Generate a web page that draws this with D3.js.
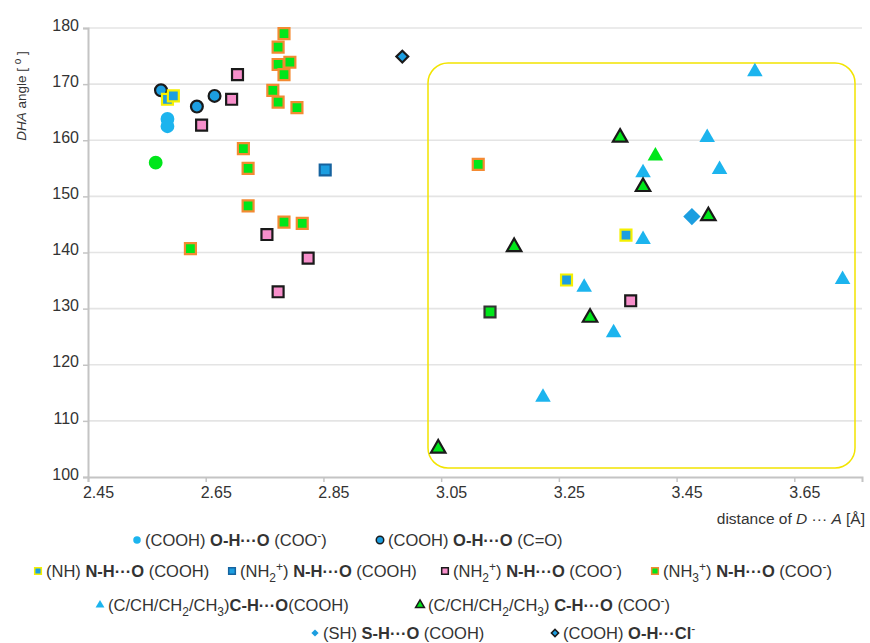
<!DOCTYPE html>
<html>
<head>
<meta charset="utf-8">
<script src="https://cdn.jsdelivr.net/npm/d3@7"></script>
<style>
  body { margin: 0; background: #fff; }
  svg { display: block; font-family: "Liberation Sans", Arial, sans-serif; }
</style>
</head>
<body>
<svg id="chart" width="870" height="643"></svg>
<script>
// Hydrogen-bond geometry: donor···acceptor distance [Å] vs D-H···A angle [°]
const xTicks = [2.45, 2.65, 2.85, 3.05, 3.25, 3.45, 3.65];
const yTicks = [100, 110, 120, 130, 140, 150, 160, 170, 180];

// (COOH) O-H···O (COO-)
const ohCooMinus = [[2.585, 163.8], [2.585, 162.5]];
// (COOH) O-H···O (C=O)
const ohCO = [[2.574, 168.9], [2.635, 166.0], [2.665, 167.9]];
// (NH) N-H···O (COOH)
const nhCooh = [[2.585, 167.3], [2.595, 167.9], [3.364, 143.1], [3.263, 135.1]];
// (NH2+) N-H···O (COOH)
const nh2Cooh = [[2.853, 154.7]];
// (NH2+) N-H···O (COO-)
const nh2CooMinus = [[2.704, 171.7], [2.694, 167.3], [2.643, 162.7], [2.754, 143.2],
                     [2.824, 139.0], [2.773, 133.0], [3.372, 131.4]];
// (NH3+) N-H···O (COO-)
const nh3CooMinus = [[2.783, 179.0], [2.773, 176.6], [2.773, 173.5], [2.793, 173.9],
                     [2.783, 171.7], [2.764, 168.9], [2.773, 166.8], [2.805, 165.8],
                     [2.714, 158.5], [2.722, 155.0], [2.722, 148.3], [2.783, 145.4],
                     [2.814, 145.2], [2.624, 140.7], [3.113, 155.7]];
// (C/CH/CH2/CH3) C-H···O (COOH)
const chCooh = [[3.583, 172.2], [3.502, 160.5], [3.523, 154.8], [3.393, 154.2],
                [3.393, 142.3], [3.293, 133.8], [3.732, 135.2], [3.343, 125.7],
                [3.223, 114.2]];
// (C/CH/CH2/CH3) C-H···O (COO-)
const chCooMinus = [[3.354, 160.5], [3.393, 151.7], [3.504, 146.5], [3.174, 141.0],
                    [3.303, 128.4], [3.045, 105.1]];
// (SH) S-H···O (COOH)
const shCooh = [[3.476, 146.4]];
// (COOH) O-H···Cl-
const ohCl = [[2.984, 174.9]];
// further contacts shown without a legend entry
const extraCircle = [[2.565, 156.0]];
const extraSquare = [[3.133, 129.4]];
const extraTriangle = [[3.414, 157.2]];

const svg = d3.select("#chart");
const x = d3.scaleLinear().domain([2.45, 3.765]).range([88, 862]);
const y = d3.scaleLinear().domain([100, 180]).range([477, 28]);

// grid
svg.append("g").selectAll("line").data(yTicks.slice(1)).join("line")
  .attr("x1", x(2.45)).attr("x2", x(3.765))
  .attr("y1", d => y(d)).attr("y2", d => y(d))
  .attr("stroke", "#e4e4e4").attr("stroke-width", 1.6);

// axes
const yAxis = svg.append("g").attr("transform", `translate(${x(2.45)},0)`)
  .call(d3.axisLeft(y).tickValues(yTicks).tickSize(5).tickPadding(4).tickFormat(d3.format("d")));
const xAxis = svg.append("g").attr("transform", `translate(0,${y(100)})`)
  .call(d3.axisBottom(x).tickValues(xTicks).tickSize(5).tickPadding(5).tickFormat(d3.format(".2f")));
[yAxis, xAxis].forEach(g => {
  g.select(".domain").attr("stroke", "#c4c4c4").attr("stroke-width", 2);
  g.selectAll(".tick line").attr("stroke", "#c4c4c4").attr("stroke-width", 1.5);
  g.selectAll(".tick text").attr("fill", "#333").attr("font-size", 16)
    .attr("font-family", "Liberation Sans, Arial, sans-serif");
});
xAxis.selectAll(".tick text").attr("dx", 10);
yAxis.selectAll(".tick text").attr("transform", "translate(0,-3)");

// highlighted region of long contacts
svg.append("rect").attr("x", 428).attr("y", 63).attr("width", 427).attr("height", 405)
  .attr("rx", 20).attr("fill", "none").attr("stroke", "#f2e400").attr("stroke-width", 1.5);

// axis titles
const yt = svg.append("text").attr("transform", "translate(26,96) rotate(-90)")
  .attr("text-anchor", "middle").attr("font-size", 13.5).attr("fill", "#333");
yt.append("tspan").attr("font-style", "italic").text("DHA");
yt.append("tspan").text(" angle [ ");
yt.append("tspan").attr("font-size", 10).attr("dy", -5).text("o");
yt.append("tspan").attr("dy", 5).text(" ]");

const xt = svg.append("text").attr("x", 865).attr("y", 524)
  .attr("text-anchor", "end").attr("font-size", 15.5).attr("fill", "#333");
xt.append("tspan").text("distance of ");
xt.append("tspan").attr("font-style", "italic").text("D");
xt.append("tspan").text(" ··· ");
xt.append("tspan").attr("font-style", "italic").text("A");
xt.append("tspan").text("  [Å]");

// marker styles
const C = {
  lightBlue: "#1cb4ee", blue: "#1c9ee0", green: "#00e61a", pink: "#f78fcb",
  orange: "#f48a32", black: "#1a1a1a", yellow: "#f5f000", darkBlue: "#16639f"
};
const symbols = {
  circle: d3.symbolCircle, square: d3.symbolSquare,
  triangle: d3.symbolTriangle, diamond: d3.symbolSquare
};
const rot = shape => shape === "diamond" ? " rotate(45)" : "";

const series = [
  { data: ohCooMinus, shape: "circle", size: 150, fill: C.lightBlue, stroke: "none" },
  { data: ohCO, shape: "circle", size: 110, fill: C.blue, stroke: C.black },
  { data: extraCircle, shape: "circle", size: 150, fill: C.green, stroke: "none" },
  { data: nh2CooMinus, shape: "square", size: 120, fill: C.pink, stroke: C.black },
  { data: nh3CooMinus, shape: "square", size: 120, fill: C.green, stroke: C.orange },
  { data: extraSquare, shape: "square", size: 120, fill: C.green, stroke: "#333" },
  { data: nh2Cooh, shape: "square", size: 120, fill: C.blue, stroke: C.darkBlue },
  { data: nhCooh, shape: "square", size: 120, fill: C.blue, stroke: C.yellow },
  { data: chCooh, shape: "triangle", size: 105, fill: C.lightBlue, stroke: "none" },
  { data: extraTriangle, shape: "triangle", size: 105, fill: C.green, stroke: "none" },
  { data: chCooMinus, shape: "triangle", size: 90, fill: C.green, stroke: C.black },
  { data: shCooh, shape: "diamond", size: 150, fill: C.blue, stroke: "none" },
  { data: ohCl, shape: "diamond", size: 70, fill: C.blue, stroke: C.black }
];

const marks = svg.append("g");
series.forEach(s => {
  marks.append("g").selectAll("path").data(s.data).join("path")
    .attr("transform", d => `translate(${x(d[0])},${y(d[1])})${rot(s.shape)}`)
    .attr("d", d3.symbol(symbols[s.shape], s.size))
    .attr("fill", s.fill)
    .attr("stroke", s.stroke)
    .attr("stroke-width", s.stroke === "none" ? 0 : 2.2)
    .attr("stroke-linejoin", "miter");
});

// legend
const legendItems = [
  { x: 137, y: 546, shape: "circle", fill: C.lightBlue, stroke: "none",
    parts: [["(COOH) "], ["O-H···O", "b"], [" (COO"], ["-", "sup"], [")"]] },
  { x: 380, y: 546, shape: "circle", fill: C.blue, stroke: C.black,
    parts: [["(COOH) "], ["O-H···O", "b"], [" (C=O)"]] },
  { x: 38, y: 577, shape: "square", fill: C.blue, stroke: C.yellow,
    parts: [["(NH) "], ["N-H···O", "b"], [" (COOH)"]] },
  { x: 232, y: 577, shape: "square", fill: C.blue, stroke: C.darkBlue,
    parts: [["(NH"], ["2", "sub"], ["+", "sup"], [") "], ["N-H···O", "b"], [" (COOH)"]] },
  { x: 445, y: 577, shape: "square", fill: C.pink, stroke: C.black,
    parts: [["(NH"], ["2", "sub"], ["+", "sup"], [") "], ["N-H···O", "b"], [" (COO"], ["-", "sup"], [")"]] },
  { x: 655, y: 577, shape: "square", fill: C.green, stroke: C.orange,
    parts: [["(NH"], ["3", "sub"], ["+", "sup"], [") "], ["N-H···O", "b"], [" (COO"], ["-", "sup"], [")"]] },
  { x: 100, y: 611, shape: "triangle", fill: C.lightBlue, stroke: "none",
    parts: [["(C/CH/CH"], ["2", "sub"], ["/CH"], ["3", "sub"], [")"], ["C-H···O", "b"], ["(COOH)"]] },
  { x: 420, y: 611, shape: "triangle", fill: C.green, stroke: C.black,
    parts: [["(C/CH/CH"], ["2", "sub"], ["/CH"], ["3", "sub"], [") "], ["C-H···O", "b"], [" (COO"], ["-", "sup"], [")"]] },
  { x: 315, y: 639, shape: "diamond", fill: C.blue, stroke: "none",
    parts: [["(SH) "], ["S-H···O", "b"], [" (COOH)"]] },
  { x: 555, y: 639, shape: "diamond", fill: C.blue, stroke: C.black,
    parts: [["(COOH) "], ["O-H···Cl", "b"], ["-", "sup"]] }
];

const legend = svg.append("g");
legendItems.forEach(it => {
  legend.append("path")
    .attr("transform", `translate(${it.x},${it.y - 6})${rot(it.shape)}`)
    .attr("d", d3.symbol(symbols[it.shape], it.shape === "triangle" ? 34 : (it.shape === "diamond" ? 26 : 44)))
    .attr("fill", it.fill).attr("stroke", it.stroke)
    .attr("stroke-width", it.stroke === "none" ? 0 : 1.5);
  const t = legend.append("text").attr("x", it.x + 8).attr("y", it.y)
    .attr("font-size", 16.5).attr("fill", "#333");
  let shift = 0;
  it.parts.forEach(([txt, st]) => {
    const sp = t.append("tspan").text(txt);
    let target = 0;
    if (st === "b") sp.attr("font-weight", "bold");
    if (st === "sub") { sp.attr("font-size", 12); target = 5; }
    if (st === "sup") { sp.attr("font-size", 12); target = -6; }
    sp.attr("dy", target - shift);
    shift = target;
  });
});
</script>
</body>
</html>
